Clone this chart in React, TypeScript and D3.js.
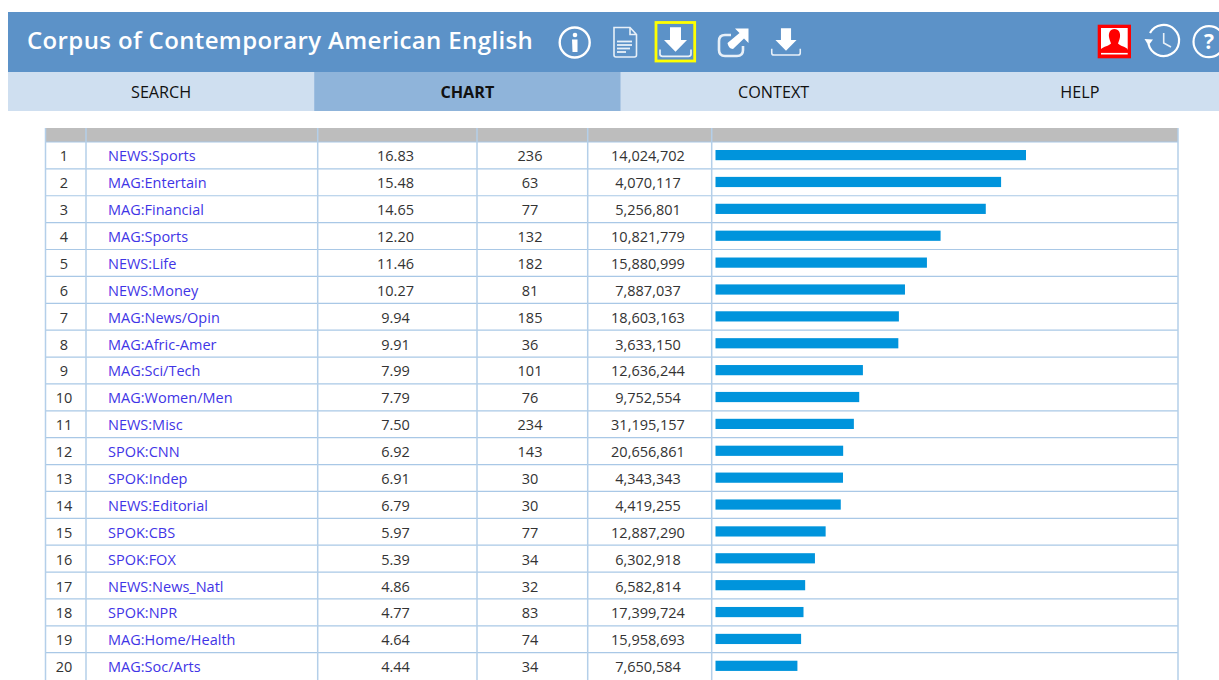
import React from 'react';
import * as d3 from 'd3';

const sections = ['NEWS:Sports', 'MAG:Entertain', 'MAG:Financial', 'MAG:Sports', 'NEWS:Life', 'NEWS:Money', 'MAG:News/Opin', 'MAG:Afric-Amer', 'MAG:Sci/Tech', 'MAG:Women/Men', 'NEWS:Misc', 'SPOK:CNN', 'SPOK:Indep', 'NEWS:Editorial', 'SPOK:CBS', 'SPOK:FOX', 'NEWS:News_Natl', 'SPOK:NPR', 'MAG:Home/Health', 'MAG:Soc/Arts'];
const perMillion = [16.83, 15.48, 14.65, 12.20, 11.46, 10.27, 9.94, 9.91, 7.99, 7.79, 7.50, 6.92, 6.91, 6.79, 5.97, 5.39, 4.86, 4.77, 4.64, 4.44];
const freq = [236, 63, 77, 132, 182, 81, 185, 36, 101, 76, 234, 143, 30, 30, 77, 34, 32, 83, 74, 34];
const words = [14024702, 4070117, 5256801, 10821779, 15880999, 7887037, 18603163, 3633150, 12636244, 9752554, 31195157, 20656861, 4343343, 4419255, 12887290, 6302918, 6582814, 17399724, 15958693, 7650584];
const tabs = ['SEARCH', 'CHART', 'CONTEXT', 'HELP'];

const FONT = '"Open Sans", sans-serif';
const columnLines = [45.5, 86, 317.7, 477, 587.7, 711.7, 1178];

const x = d3.scaleLinear().domain([0, 16.83]).range([715.5, 1026]);
const y = d3.scaleBand<number>().domain(d3.range(sections.length)).range([142, 679.6]);
const tabX = d3.scaleBand<string>().domain(tabs).range([8, 1233]);
const comma = d3.format(',');

// white tray with an arrow, used twice in the toolbar
function DownloadIcon({ tx, ty, s = 1 }: { tx: number; ty: number; s?: number }) {
  return (
    <g transform={`translate(${tx},${ty}) scale(${s})`}>
      <path d="M-5.5,-16.7 H5.5 V-4 H11.5 L0,7.7 L-11.5,-4 H-5.5 Z" fill="#fff" />
      <path d="M-15.5,5.5 V10 Q-15.5,12.3 -13,12.3 H13 Q15.5,12.3 15.5,10 V5.5" fill="none" stroke="#e8f0f8" strokeWidth={1.7} />
    </g>
  );
}

export default function App() {
  return (
    <svg width={1219} height={680} style={{ position: 'absolute', left: 0, top: 0 }} fontFamily={FONT}>
      <rect width={1219} height={680} fill="#fff" />
      {/* header band */}
      <rect x={8} y={12} width={1211} height={60} fill="#5c92c8" />
      <text x={27} y={49} fontSize={24} fontWeight={600} fill="#fff" letterSpacing={0.37}>Corpus of Contemporary American English</text>

      {/* info */}
      <circle cx={574.7} cy={42.5} r={15} fill="none" stroke="#fff" strokeWidth={2.4} />
      <circle cx={575} cy={35} r={2.3} fill="#fff" />
      <path d="M572,39.5 H577.5 V52 H572.5 Z" fill="#fff" />

      {/* document */}
      <path d="M614,27.5 H630 L636.5,34.5 V55 Q636.5,57 634.5,57 H616 Q614,57 614,55 Z M630,27.5 V34.5 H636.5" fill="none" stroke="#e8f0f8" strokeWidth={1.6} />
      <g stroke="#e8f0f8" strokeWidth={1.8}>
        <line x1={617} x2={632} y1={41.5} y2={41.5} />
        <line x1={617} x2={632} y1={45} y2={45} />
        <line x1={617} x2={630} y1={48.5} y2={48.5} />
        <line x1={617} x2={626} y1={52} y2={52} />
      </g>

      {/* highlighted download */}
      <rect x={656} y={22.5} width={38.7} height={38.5} fill="none" stroke="#ffff00" strokeWidth={2.8} />
      <DownloadIcon tx={675.5} ty={44} />

      {/* share */}
      <path d="M731,35 H725 Q719,35 719,41 V50 Q719,56 725,56 H737 Q743,56 743,50 V46" fill="none" stroke="#e8f0f8" strokeWidth={2.6} />
      <path d="M735,28.5 H748.5 V43 L744,38.5 L733,49 C730,49 728,46 727.5,43 L739.5,33 Z" fill="#fff" />

      {/* plain download */}
      <DownloadIcon tx={786} ty={43.7} s={0.92} />

      {/* user */}
      <rect x={1097.7} y={24.7} width={33.3} height={33.6} fill="#ff0000" />
      <rect x={1101} y={28} width={26.7} height={22} fill="#fff" />
      <path d="M1114.4,29 C1119,29 1120.5,33 1120,37 C1119.5,40 1118.5,42 1118,43.5 C1120,46 1125,46.5 1127.7,49 V52 H1101 V49 C1103.5,46.5 1109,46 1111,43.5 C1110.5,42 1109.5,40 1109,37 C1108.5,33 1110,29 1114.4,29 Z" fill="#ff0000" />
      <line x1={1101} x2={1127.7} y1={53.7} y2={53.7} stroke="#fff" strokeWidth={1.6} />

      {/* history */}
      <path d="M1150,33 A15.5,15.5 0 1 1 1148.5,44" fill="none" stroke="#fff" strokeWidth={2.2} />
      <path d="M1144.5,39 L1153,39.5 L1148.5,45.5 Z" fill="#fff" />
      <path d="M1163.7,33 V43 L1171,47" fill="none" stroke="#e8f0f8" strokeWidth={1.6} />

      {/* help */}
      <circle cx={1209} cy={41.7} r={15.5} fill="none" stroke="#fff" strokeWidth={2.2} />
      <text x={1209} y={49} fontSize={21} fontWeight={700} fill="#fff" textAnchor="middle">?</text>

      {/* tabs */}
      <rect x={8} y={72} width={1211} height={39} fill="#cfdff0" />
      <rect x={tabX('CHART')!} y={72} width={tabX.bandwidth()} height={39} fill="#8fb4da" />
      {tabs.map(t => (
        <text key={t} x={tabX(t)! + tabX.bandwidth() / 2} y={97.5} fontSize={16.2} fill="#111" textAnchor="middle"
          fontWeight={t === 'CHART' ? 700 : 400}>{t}</text>
      ))}

      {/* table header */}
      <rect x={45} y={128} width={1133} height={14} fill="#bdbdbd" />

      {/* rows */}
      {sections.map((s, i) => {
        const top = y(i)!;
        const mid = top + y.bandwidth() / 2;
        return (
          <g key={s} fontSize={14.5} fill="#333">
            <text x={64} y={mid + 6} textAnchor="middle">{i + 1}</text>
            <text x={108} y={mid + 6} fill="#3f35e6">{s}</text>
            <text x={395.5} y={mid + 6} textAnchor="middle">{perMillion[i].toFixed(2)}</text>
            <text x={530} y={mid + 6} textAnchor="middle">{freq[i]}</text>
            <text x={648} y={mid + 6} textAnchor="middle">{comma(words[i])}</text>
            <rect x={x(0)} y={top + 8} width={x(perMillion[i]) - x(0)} height={10.2} fill="#0094dc" />
          </g>
        );
      })}

      {/* grid */}
      <g stroke="#a9c8e6" strokeWidth={1.2}>
        {sections.slice(0, -1).map((s, i) => (
          <line key={s} x1={45} x2={1178} y1={y(i)! + y.bandwidth()} y2={y(i)! + y.bandwidth()} />
        ))}
        <line x1={45} x2={1178} y1={142} y2={142} />
      </g>
      <g stroke="#b4cfe9" strokeWidth={1.5}>
        {columnLines.map(c => <line key={c} x1={c} x2={c} y1={128} y2={680} />)}
      </g>
    </svg>
  );
}
